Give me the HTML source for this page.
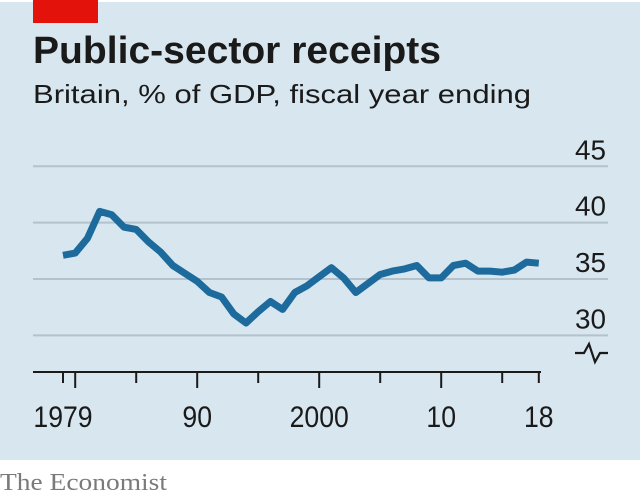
<!DOCTYPE html>
<html><head><meta charset="utf-8"><style>
html,body{margin:0;padding:0;background:#fff;}
svg{display:block;font-family:"Liberation Sans",sans-serif;}
</style></head><body>
<svg width="640" height="498" viewBox="0 0 640 498">
<rect x="0" y="2" width="640" height="458" fill="#d7e6ef"/>
<rect x="33" y="0" width="65" height="23" fill="#e3120b"/>
<text x="33" y="63" font-size="38" font-weight="bold" fill="#1a1a1a" textLength="408" lengthAdjust="spacingAndGlyphs">Public-sector receipts</text>
<text x="33" y="103" font-size="26" fill="#1a1a1a" textLength="498" lengthAdjust="spacingAndGlyphs">Britain, % of GDP, fiscal year ending</text>
<g id="grid"></g>
<g id="ylabels"></g>
<path d="M575,353 L584,353 L589,344 L595,362 L600,353 L608,353" fill="none" stroke="#1a1a1a" stroke-width="2.2"/>
<g id="xaxis"></g>
<path id="line" fill="none" stroke="#1d6a9c" stroke-width="7" stroke-linejoin="round"/>
<text x="0" y="490" font-family="Liberation Serif,serif" font-size="24" fill="#7a7a7a" textLength="167" lengthAdjust="spacingAndGlyphs">The Economist</text>
</svg>
<script>
const years = [1979,1980,1981,1982,1983,1984,1985,1986,1987,1988,1989,1990,1991,1992,1993,1994,1995,1996,1997,1998,1999,2000,2001,2002,2003,2004,2005,2006,2007,2008,2009,2010,2011,2012,2013,2014,2015,2016,2017,2018];
const receipts = [37.1,37.3,38.6,41.0,40.7,39.6,39.4,38.3,37.4,36.2,35.5,34.8,33.8,33.4,31.9,31.1,32.1,33.0,32.3,33.8,34.4,35.2,36.0,35.1,33.8,34.6,35.4,35.7,35.9,36.2,35.1,35.1,36.2,36.4,35.7,35.7,35.6,35.8,36.5,36.4];
const yTicks = [30,35,40,45];
const xTickYears = [1979,1980,1985,1990,1995,2000,2005,2010,2015,2018];
const xMajor = [1980,1990,2000,2010];
const xLabelYears = [1979,1990,2000,2010,2018];
const xLabels = ["1979","90","2000","10","18"];
const NS="http://www.w3.org/2000/svg";
const xs = yr => 63 + (yr-1979)*12.2;
const ys = v => 279 - (v-35)*11.27;
function mk(tag, attrs, parent){const e=document.createElementNS(NS,tag);for(const k in attrs)e.setAttribute(k,attrs[k]);parent.appendChild(e);return e;}
const grid=document.getElementById('grid'), yl=document.getElementById('ylabels'), xa=document.getElementById('xaxis');
yTicks.forEach(v=>{
  const l=mk('line',{x1:33,x2:608,y1:ys(v),y2:ys(v),stroke:'#b4c2cb','stroke-width':2},grid);
  
  
  const t=mk('text',{x:606,y:ys(v)-7,'text-anchor':'end','font-size':28,fill:'#1a1a1a',textLength:31,lengthAdjust:'spacingAndGlyphs'},yl);
  t.textContent=v;
  
  
});
const ax=mk('line',{x1:33,x2:541,y1:372,y2:372,stroke:'#1a1a1a','stroke-width':2},xa);


xTickYears.forEach(yr=>{
  const len = xMajor.includes(yr)?16:11;
  const t=mk('line',{x1:xs(yr),x2:xs(yr),y1:372,y2:372+len,stroke:'#1a1a1a','stroke-width':2},xa);
  
  
});
xLabelYears.forEach((yr,i)=>{
  const t=mk('text',{x:xs(yr),y:427,'text-anchor':'middle','font-size':30,fill:'#1a1a1a',textLength:xLabels[i].length*14.8,lengthAdjust:'spacingAndGlyphs'},xa);
  t.textContent=xLabels[i];
  
  
});
document.getElementById('line').setAttribute('d', years.map((yr,i)=>(i?'L':'M')+xs(yr).toFixed(1)+','+ys(receipts[i]).toFixed(1)).join(' '));
</script>
</body></html>
